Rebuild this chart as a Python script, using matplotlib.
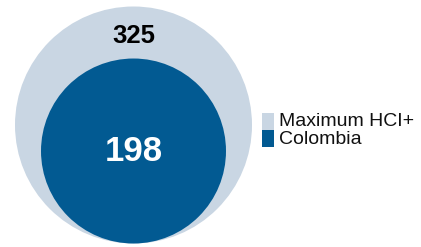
import matplotlib
matplotlib.use("Agg")
import matplotlib.pyplot as plt
from matplotlib.patches import Circle, Rectangle
import numpy as np

plt.rcParams['font.family'] = ['Liberation Sans', 'DejaVu Sans']

labels = ["Maximum HCI+", "Colombia"]
values = [325, 198]
colors = ["#c9d6e3", "#025a92"]
text_colors = ["#000000", "#ffffff"]

W, H = 421, 247
fig = plt.figure(figsize=(W / 100, H / 100), dpi=100)
ax = fig.add_axes([0, 0, 1, 1])
ax.set_xlim(0, W)
ax.set_ylim(H, 0)
ax.set_aspect('equal')
ax.axis('off')

cx = 133.5
base_y = 243.5
R_max = 118.5
vmax = max(values)
radii = [R_max * np.sqrt(v / vmax) for v in values]

for i, (v, r, c) in enumerate(zip(values, radii, colors)):
    cy = base_y - r
    ax.add_patch(Circle((cx, cy), r, facecolor=c, edgecolor='none'))

# labels
r0, r1 = radii
ax.text(cx, 35.5, str(values[0]), ha='center', va='center', fontsize=18.5,
        fontweight='bold', color=text_colors[0])
ax.text(cx, 151.5, str(values[1]), ha='center', va='center', fontsize=25,
        fontweight='bold', color=text_colors[1])

# legend
sw_x, sw_w, sw_h = 262, 12, 16.5
ys = [113, 130.5]
for lab, c, y in zip(labels, colors, ys):
    ax.add_patch(Rectangle((sw_x, y), sw_w, sw_h, facecolor=c, edgecolor='none'))
    ax.text(279, y + sw_h / 2 + 0.5, lab, ha='left', va='center', fontsize=14, color='#111111')

fig.savefig("out.png", dpi=100)
